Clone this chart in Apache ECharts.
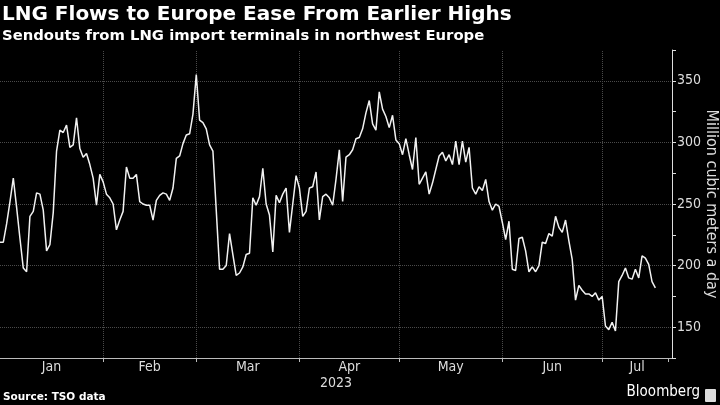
<!DOCTYPE html>
<html>
<head>
<meta charset="utf-8">
<script src="https://cdn.jsdelivr.net/npm/echarts@6/dist/echarts.min.js"></script>
<style>
  html, body { margin: 0; background: #000; }
  #chart { width: 720px; height: 405px; }
</style>
</head>
<body>
<div id="chart"></div>
<script>
// daily sendouts, million cubic meters a day, from 2023-01-01
const sendouts = [
  219, 219, 234, 252, 271, 247, 222, 198, 195, 240,
  244, 259, 258, 245, 212, 217, 243, 293, 310, 308,
  314, 296, 298, 320, 295, 288, 291, 282, 271, 249,
  274, 268, 258, 255, 250, 229, 237, 244, 280, 271,
  271, 274, 252, 250, 249, 249, 237, 253, 257, 259,
  258, 253, 263, 287, 289, 299, 306, 307, 323, 355,
  318, 316, 311, 298, 293, 245, 197, 197, 200, 226,
  209, 192, 194, 199, 209, 210, 255, 249, 256, 279,
  250, 241, 211, 257, 251, 258, 263, 227, 250, 273,
  263, 240, 244, 263, 264, 276, 237, 256, 258, 255,
  249, 270, 294, 252, 288, 290, 294, 303, 304, 311,
  324, 334, 315, 310, 341, 327, 321, 312, 322, 302,
  299, 290, 303, 290, 278, 304, 266, 271, 276, 258,
  267, 278, 289, 292, 285, 290, 282, 301, 282, 301,
  284, 296, 263, 258, 264, 261, 270, 252, 245, 250,
  248, 235, 221, 236, 197, 196, 222, 223, 212, 195,
  199, 195, 200, 219, 218, 226, 224, 240, 231, 227,
  237, 220, 205, 172, 184, 180, 177, 177, 175, 178,
  172, 175, 151, 148, 154, 147, 187, 192, 198, 190,
  189, 197, 190, 208, 206, 201, 187, 182
];
const monthNames = ['Jan', 'Feb', 'Mar', 'Apr', 'May', 'Jun', 'Jul'];
const yTicks = [150, 200, 250, 300, 350];

const day = i => new Date(2023, 0, 1 + i).getTime();
const axisStart = day(0);
const axisEnd = new Date(2023, 6, 22).getTime();
const seriesData = sendouts.map((v, i) => [day(i), v]);

const monthStarts = monthNames.map((m, i) => new Date(2023, i, 1).getTime());
const monthMids = monthStarts.map((t, i) => (t + (i + 1 < monthStarts.length ? monthStarts[i + 1] : axisEnd)) / 2);
const tickDates = monthStarts.slice(1).concat([new Date(2023, 6, 21).getTime()]);

const narrow = "'Liberation Sans Narrow', 'DejaVu Sans Condensed', sans-serif";

const chart = echarts.init(document.getElementById('chart'));

const option = {
  backgroundColor: '#000',
  animation: false,
  grid: { left: 0, right: 48, top: 50, bottom: 47, outerBoundsMode: 'none', containLabel: false },
  xAxis: {
    type: 'value',
    min: axisStart,
    max: axisEnd,
    name: '2023',
    nameLocation: 'middle',
    nameGap: 18,
    nameMoveOverlap: false,
    nameTextStyle: { color: '#ddd', fontSize: 14, fontFamily: narrow },
    axisLine: { show: true, lineStyle: { color: '#bbb', width: 1 } },
    axisTick: { show: true, length: 4, customValues: tickDates, lineStyle: { color: '#bbb' } },
    axisLabel: {
      customValues: monthMids,
      color: '#ddd', fontSize: 14, fontFamily: narrow, margin: 2,
      formatter: v => monthNames[new Date(v).getMonth()]
    },
    splitLine: { show: false }
  },
  yAxis: {
    type: 'value',
    position: 'right',
    min: 125,
    max: 375,
    interval: 25,
    name: 'Million cubic meters a day',
    nameLocation: 'middle',
    nameRotate: -90,
    nameGap: 31,
    nameMoveOverlap: false,
    nameTextStyle: { color: '#ddd', fontSize: 16, fontFamily: narrow },
    axisLine: { show: true, lineStyle: { color: '#ddd', width: 1 } },
    axisTick: { show: true, length: 4, lineStyle: { color: '#ddd' } },
    axisLabel: {
      color: '#ddd', fontSize: 14, fontFamily: narrow, margin: 5,
      formatter: v => (v % 50 === 0 ? String(v) : '')
    },
    splitLine: { show: false }
  },
  series: [{
    type: 'line',
    data: seriesData,
    showSymbol: false,
    lineStyle: { color: '#f2f2f2', width: 1.5 },
    z: 5,
    markLine: {
      silent: true,
      symbol: 'none',
      label: { show: false },
      lineStyle: { color: '#4a4a4a', type: 'dotted', width: 1 },
      data: yTicks.map(v => ({ yAxis: v }))
        .concat(monthStarts.slice(1).map(t => ({ xAxis: t })))
    }
  }],
  graphic: [
    { type: 'text', left: 2, top: 5,
      style: { text: 'LNG Flows to Europe Ease From Earlier Highs', fill: '#fff', font: "bold 20px 'DejaVu Sans'" } },
    { type: 'text', left: 2, top: 29,
      style: { text: 'Sendouts from LNG import terminals in northwest Europe', fill: '#fff', font: "bold 14.8px 'DejaVu Sans'" } },
    { type: 'text', left: 3, top: 392,
      style: { text: 'Source: TSO data', fill: '#fff', font: "bold 10.5px 'DejaVu Sans'" } },
    { type: 'text', right: 20, top: 385,
      style: { text: 'Bloomberg', fill: '#fff', font: "15px " + narrow } },
    { type: 'rect', right: 4, top: 389, shape: { width: 11, height: 13, r: 1 },
      style: { fill: '#ddd' } }
  ]
};

chart.setOption(option);
</script>
</body>
</html>
